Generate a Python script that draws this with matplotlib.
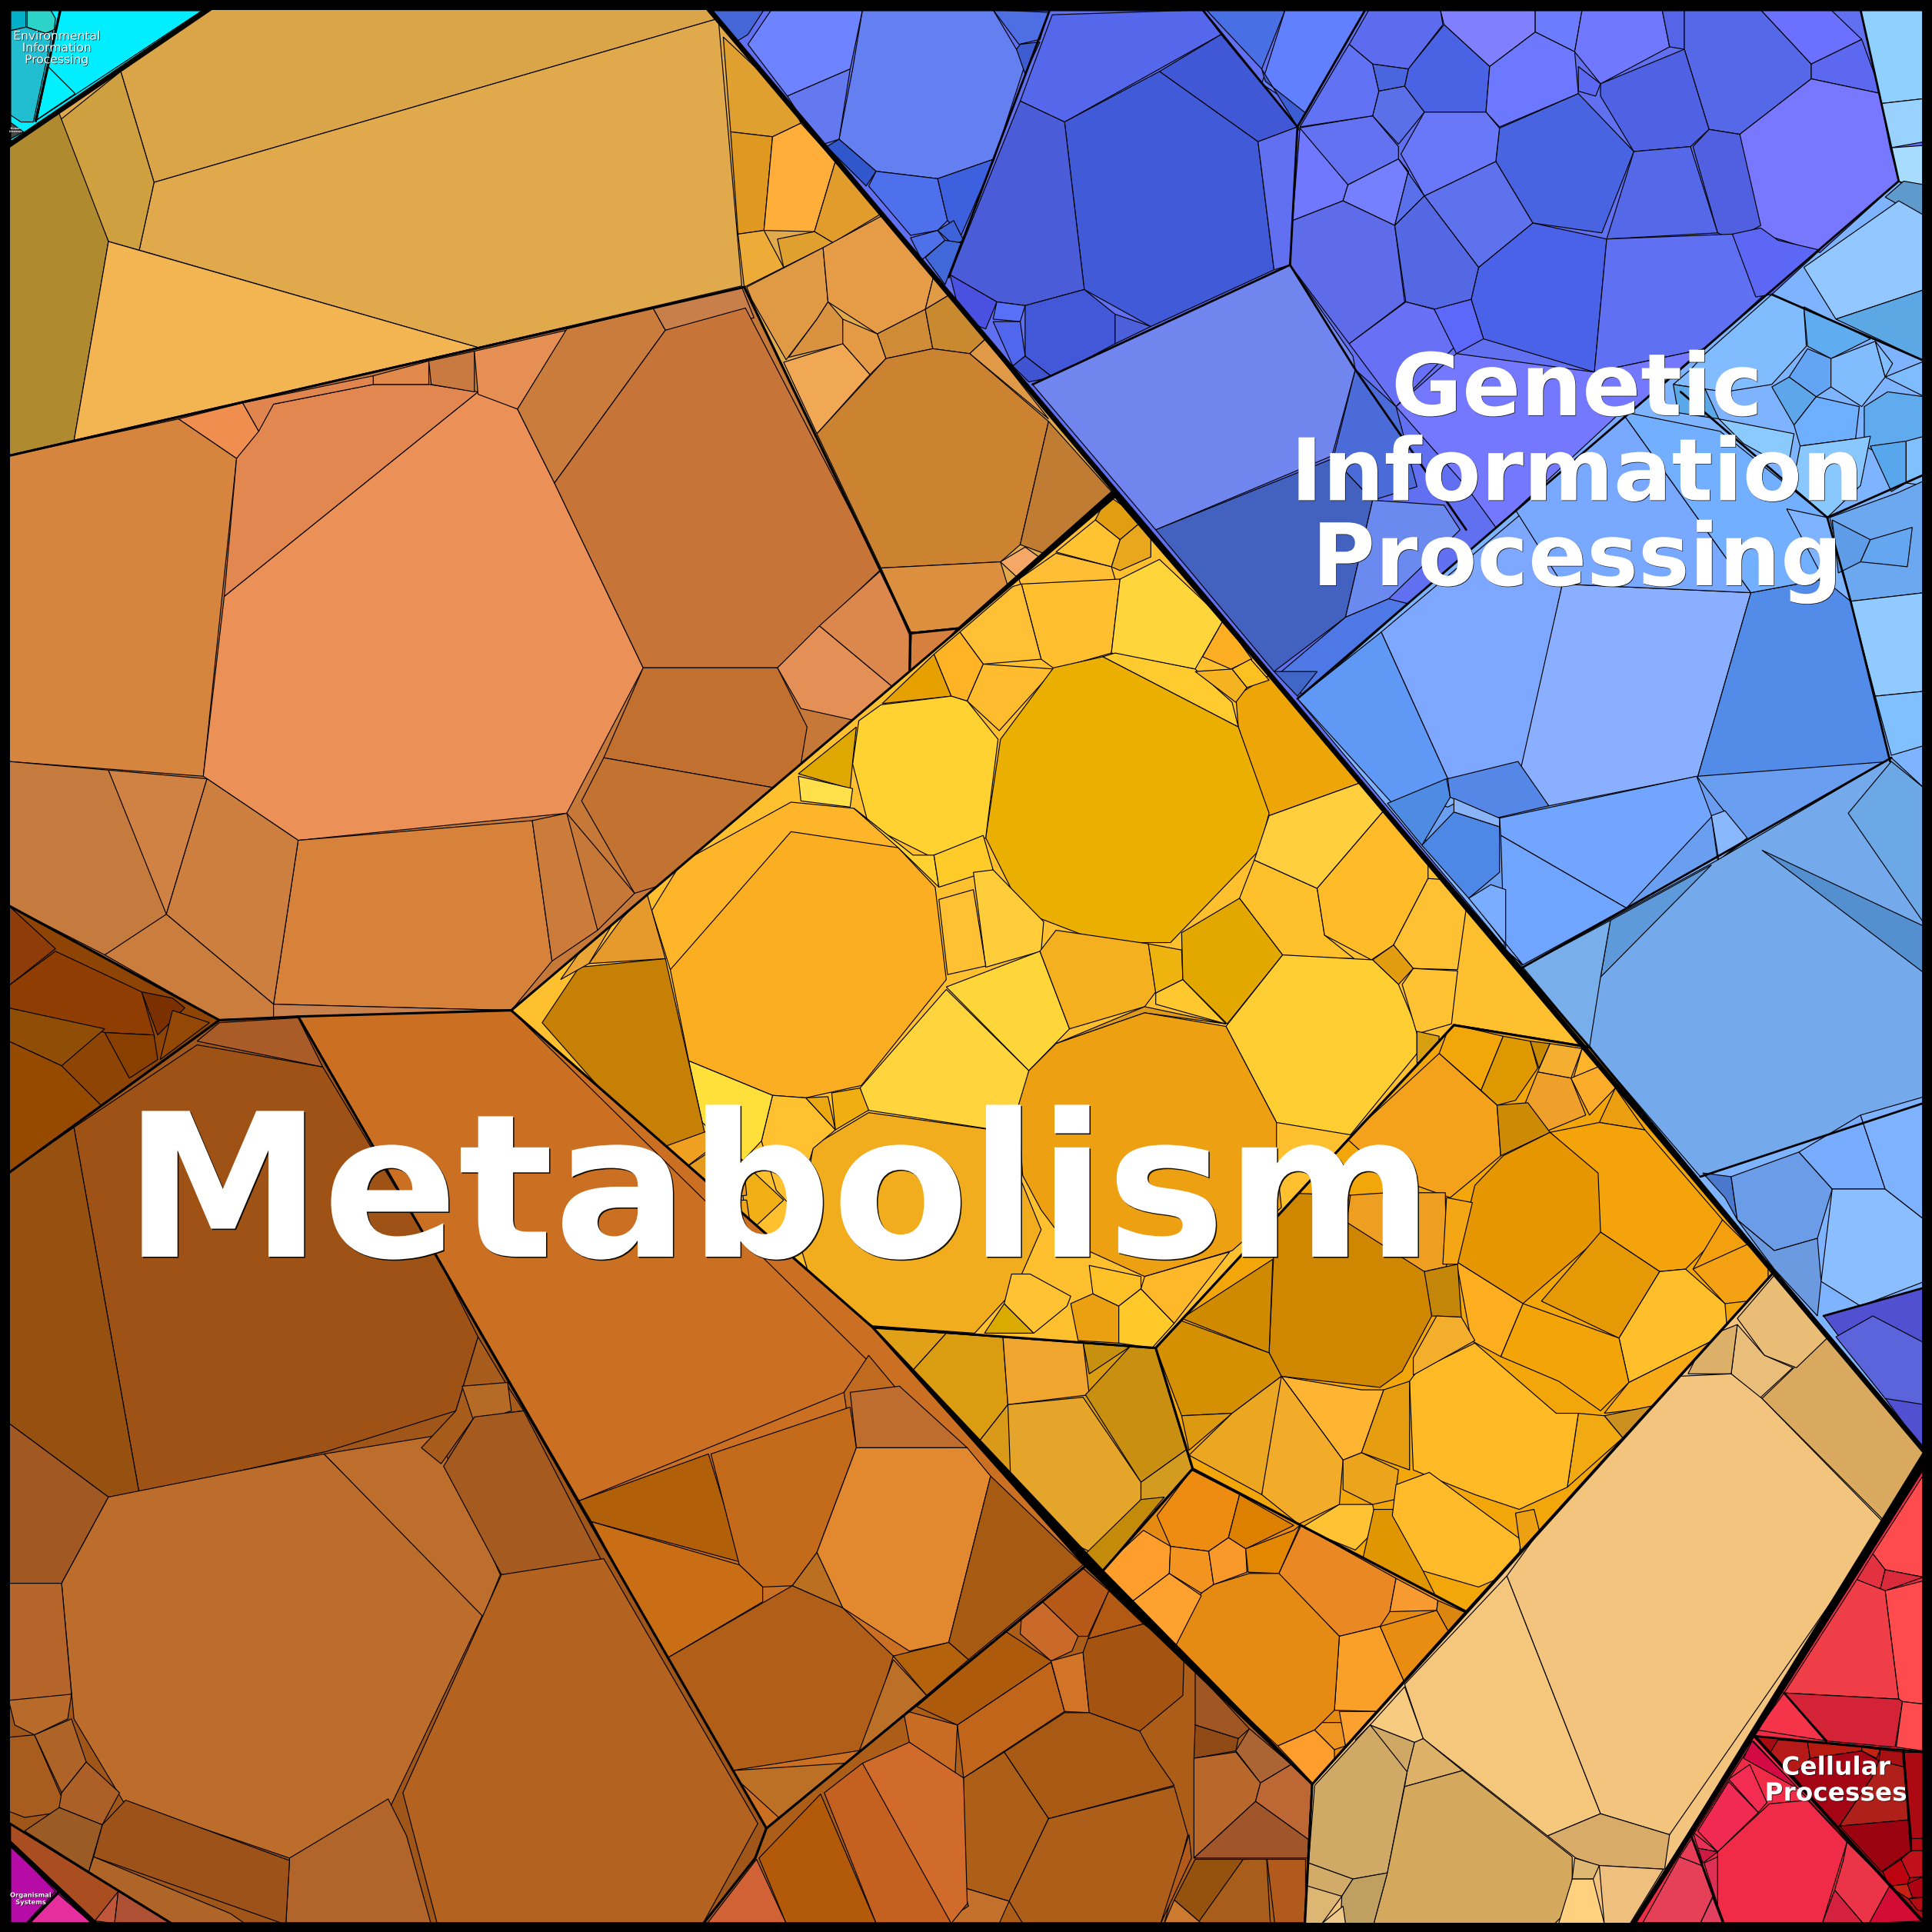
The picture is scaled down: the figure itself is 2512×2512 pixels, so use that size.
#!/usr/bin/env python3
"""Voronoi treemap of functional categories, cells read off the reference picture."""

import matplotlib

matplotlib.use("Agg")

import matplotlib.patheffects as pe
import matplotlib.pyplot as plt
from matplotlib.patches import Polygon

# Category outlines, in picture units (1568 across)
ENV_OUTLINE = [(7, 7), (170, 7), (7, 118)]
DISEASE_OUTLINE = [(8, 99), (19, 107), (8, 113)]
GENETIC_OUTLINE = [(575, 7), (1562, 7), (1562, 1178)]
CELLULAR_OUTLINE = [(1562, 1188), (1562, 1562), (1325, 1562)]
ORGANISMAL_OUTLINE = [(7, 1495), (78, 1562), (7, 1562)]

# Sub-category outlines inside Metabolism: (base colour, outline)
TOP_TAN = ("#DFA94C", [(170, 7), (575, 7), (904, 398), (778, 510), (739, 514), (604, 233), (7, 370), (7, 118)])
WEDGE = ("#D6803F", [(739, 514), (778, 510), (738, 552)])
ORANGE_UP = ("#C57838", [(7, 370), (604, 233), (739, 514), (738, 552), (415, 820), (178, 828), (7, 735)])
BROWN_DARK = ("#8E4405", [(7, 735), (178, 828), (7, 952)])
YELLOW_MID = ("#FFC030", [(415, 820), (905, 403), (1290, 850), (1180, 832), (938, 1094), (708, 1077)])
YELLOW_LOW = ("#F2A60A", [(938, 1094), (1180, 832), (1290, 850), (1440, 1032), (1190, 1308), (968, 1192)])
GOLD_LOW = ("#DA9C10", [(708, 1077), (938, 1094), (968, 1192), (895, 1275)])
ORANGE_BRIGHT = ("#E58B14", [(968, 1192), (1190, 1308), (1065, 1448), (895, 1275)])
CREAM = ("#F3C47D", [(1440, 1032), (1562, 1178), (1325, 1562), (1059, 1562), (1065, 1448)])
BROWN_MID = ("#CB7022", [(242, 825), (415, 820), (708, 1077), (881, 1271), (622, 1484)])
BROWN_LEFT = ("#A05618", [(7, 952), (178, 828), (242, 825), (622, 1484), (613, 1508), (571, 1561), (139, 1561), (7, 1480)])
RED_CORNER = ("#AA4E22", [(8, 1480), (139, 1561), (78, 1561), (8, 1495)])
BROWN_LOW = ("#AC5E18", [(881, 1271), (1065, 1448), (1059, 1561), (571, 1561), (613, 1508), (622, 1484)])

ENV_CELLS = [
    ("#00EEFF", [(49, 8), (165, 8), (29, 98)]),
    ("#00AFC8", [(8, 8), (21, 8), (21, 22), (8, 25)]),
    ("#2CD3C8", [(22, 8), (41, 8), (45, 15), (44, 24), (37, 27), (22, 22)]),
    ("#20BED0", [(8, 25), (21, 22), (37, 27), (43, 25), (27, 99), (17, 99), (8, 93)]),
    ("#3FF7FF", [(31, 88), (37, 92), (30, 97)]),
    ("#00F0FF", [(39, 54), (61, 76), (30, 97)]),
    ("#484848", DISEASE_OUTLINE),
]
ORGANISMAL_CELLS = [
    ("#B60BA6", [(7, 1495), (45, 1535), (20, 1562), (7, 1562)]),
    ("#E72E9F", [(47, 1537), (76, 1562), (23, 1562)]),
]
RED_CORNER_CELLS = [
    ("#C0563A", [(96, 1535), (77, 1559), (93, 1561)]),
    ("#AE5034", [(96, 1535), (139, 1561), (93, 1561)]),
]
TOP_TAN_CELLS = [
    ("#D9A548", [(170, 7), (575, 7), (583, 15), (125, 148), (98, 58)]),
    ("#DFA94C", [(125, 148), (583, 15), (602, 232), (388, 282), (113, 203)]),
    ("#CFA040", [(98, 58), (125, 148), (113, 203), (88, 196), (48, 98)]),
    ("#B08A2E", [(7, 118), (48, 92), (88, 196), (60, 358), (7, 370)]),
    ("#F2B552", [(88, 196), (388, 282), (60, 358)]),
    ("#E0A030", [(587, 30), (593, 107), (627, 111), (650, 100), (640, 80)]),
    ("#DF9820", [(593, 107), (627, 111), (620, 187), (599, 190)]),
    ("#FFAE3A", [(627, 111), (650, 100), (678, 131), (661, 188), (620, 187)]),
    ("#E29C2C", [(678, 131), (716, 173), (676, 197), (661, 188)]),
    ("#EDAB38", [(599, 190), (620, 187), (636, 217), (604, 233)]),
    ("#DFA030", [(631, 194), (661, 188), (676, 197), (636, 217)]),
    ("#E09A45", [(606, 233), (668, 201), (672, 245), (663, 259), (638, 292), (610, 243)]),
    ("#E69B47", [(668, 201), (716, 175), (758, 223), (751, 251), (712, 271), (672, 245)]),
    ("#E29B45", [(758, 223), (771, 239), (751, 251)]),
    ("#CF8B35", [(751, 251), (757, 283), (719, 291), (712, 271)]),
    ("#C8892F", [(751, 251), (771, 239), (800, 275), (787, 287), (757, 283)]),
    ("#E09A47", [(800, 275), (851, 340), (787, 287)]),
    ("#D9923F", [(672, 245), (684, 259), (685, 279), (640, 290), (663, 259)]),
    ("#E59A45", [(684, 259), (712, 271), (719, 291), (706, 304), (684, 279)]),
    ("#F0A855", [(636, 294), (684, 279), (706, 304), (663, 352)]),
    ("#CC8331", [(663, 352), (719, 291), (757, 283), (787, 287), (851, 342), (828, 442), (812, 456), (715, 461)]),
    ("#BF7C32", [(851, 342), (903, 400), (855, 452), (828, 442)]),
    ("#DC8F3F", [(715, 461), (812, 456), (818, 476), (777, 512), (739, 513)]),
    ("#F5A866", [(812, 456), (832, 444), (846, 454), (826, 469)]),
]
ORANGE_UP_CELLS = [
    ("#D6853E", [(7, 370), (145, 340), (192, 372), (165, 630), (7, 618)]),
    ("#EB9158", [(388, 318), (420, 332), (450, 392), (522, 542), (460, 660), (242, 682), (165, 630), (182, 484)]),
    ("#E2874F", [(182, 484), (192, 372), (210, 345), (222, 328), (303, 312), (348, 312), (388, 318)]),
    ("#EF8E4E", [(145, 340), (197, 327), (210, 350), (192, 372)]),
    ("#E0854E", [(197, 327), (303, 305), (303, 312), (222, 328), (210, 350)]),
    ("#E28A4C", [(303, 312), (348, 312), (348, 293), (303, 305)]),
    ("#C97A40", [(348, 293), (385, 285), (385, 318), (350, 312)]),
    ("#E58F55", [(385, 285), (460, 268), (420, 332), (388, 320)]),
    ("#C97C3B", [(460, 267), (530, 250), (540, 268), (450, 392), (420, 332)]),
    ("#C97F49", [(530, 250), (602, 233), (612, 258), (540, 268)]),
    ("#C77439", [(540, 268), (605, 250), (715, 462), (631, 542), (522, 542), (450, 392)]),
    ("#DC884C", [(665, 508), (715, 463), (738, 515), (738, 550), (725, 558)]),
    ("#E38F55", [(631, 542), (665, 508), (725, 558), (695, 585), (650, 575)]),
    ("#C17030", [(522, 542), (631, 542), (655, 590), (650, 620), (632, 640), (490, 615)]),
    ("#C37331", [(472, 650), (490, 615), (632, 640), (570, 708), (515, 725)]),
    ("#C57838", [(432, 668), (460, 660), (515, 725), (485, 755)]),
    ("#D7823A", [(242, 682), (432, 666), (448, 780), (415, 820), (222, 815)]),
    ("#CC7C3A", [(432, 666), (460, 660), (485, 755), (448, 780)]),
    ("#C67B3E", [(7, 618), (88, 625), (140, 742), (85, 775), (7, 735)]),
    ("#CF8244", [(88, 625), (168, 632), (135, 742)]),
    ("#CD7F3F", [(168, 632), (242, 682), (222, 815), (135, 742)]),
    ("#CB7D3D", [(135, 742), (222, 815), (222, 828), (178, 828), (85, 775)]),
    ("#C8804D", [(222, 815), (415, 820), (222, 828)]),
]
BROWN_DARK_CELLS = [
    ("#8E3C0A", [(7, 735), (45, 770), (7, 800)]),
    ("#8F3D02", [(7, 800), (45, 772), (115, 805), (125, 840), (85, 838), (7, 818)]),
    ("#8F4D05", [(7, 818), (85, 835), (50, 865), (7, 845)]),
    ("#964A00", [(7, 845), (50, 865), (85, 900), (7, 952)]),
    ("#883F00", [(85, 838), (125, 840), (128, 860), (105, 875)]),
    ("#7A3000", [(115, 805), (140, 810), (150, 818), (128, 840)]),
    ("#944805", [(140, 820), (170, 830), (130, 860)]),
]
BROWN_MID_CELLS = [
    ("#CB7022", [(242, 825), (415, 820), (705, 1105), (685, 1130), (470, 1218)]),
    ("#C06A20", [(705, 1100), (730, 1130), (690, 1165), (685, 1130)]),
    ("#BF6D2F", [(690, 1130), (730, 1125), (785, 1175), (695, 1175)]),
    ("#B25F0A", [(470, 1218), (575, 1180), (602, 1268), (480, 1235)]),
    ("#C46A1B", [(577, 1180), (690, 1142), (695, 1175), (663, 1260), (643, 1287), (619, 1288), (600, 1270)]),
    ("#C96E14", [(480, 1235), (600, 1270), (619, 1288), (619, 1300), (541, 1346)]),
    ("#E2882F", [(695, 1175), (785, 1175), (804, 1198), (770, 1333), (738, 1340), (684, 1305), (663, 1260)]),
    ("#A65A12", [(804, 1198), (879, 1270), (786, 1347), (770, 1333)]),
    ("#BA7020", [(643, 1287), (684, 1305), (663, 1260)]),
    ("#B05E18", [(541, 1346), (643, 1287), (684, 1305), (725, 1344), (702, 1420), (594, 1437)]),
    ("#B5620C", [(725, 1344), (770, 1333), (786, 1347), (752, 1376)]),
    ("#BC6F27", [(725, 1347), (752, 1376), (697, 1422)]),
    ("#BC7026", [(594, 1437), (686, 1431), (633, 1476), (599, 1445)]),
]
BROWN_LEFT_CELLS = [
    ("#A95B28", [(160, 845), (178, 830), (242, 826), (262, 866)]),
    ("#9E5216", [(60, 915), (160, 848), (262, 866), (355, 1020), (388, 1085), (370, 1145), (265, 1178), (113, 1212)]),
    ("#96500F", [(7, 952), (60, 915), (113, 1212), (88, 1215), (7, 1155)]),
    ("#A25823", [(7, 1155), (88, 1215), (50, 1285), (7, 1285)]),
    ("#BC6C2B", [(50, 1285), (88, 1215), (263, 1180), (392, 1310), (315, 1470), (235, 1508), (100, 1462), (60, 1395)]),
    ("#BD6E2D", [(263, 1180), (355, 1165), (406, 1278), (392, 1312)]),
    ("#A85C1C", [(370, 1145), (388, 1085), (412, 1125), (425, 1145), (385, 1150), (358, 1188), (342, 1175)]),
    ("#B56B25", [(375, 1125), (412, 1122), (415, 1145), (385, 1155)]),
    ("#A55B20", [(385, 1150), (425, 1145), (490, 1270), (407, 1278), (360, 1190)]),
    ("#B46220", [(407, 1278), (490, 1265), (615, 1480), (570, 1562), (355, 1562), (327, 1455)]),
    ("#B2652A", [(315, 1460), (330, 1490), (350, 1562), (232, 1562), (235, 1508)]),
    ("#9C5218", [(76, 1507), (83, 1481), (102, 1461), (235, 1510), (232, 1562)]),
    ("#AF6428", [(72, 1519), (76, 1507), (187, 1553), (200, 1562), (139, 1562)]),
    ("#B5652A", [(7, 1285), (50, 1285), (58, 1375), (15, 1390), (7, 1385)]),
    ("#B86A2A", [(7, 1380), (58, 1375), (55, 1395), (28, 1408), (12, 1400)]),
    ("#A85C1E", [(7, 1410), (28, 1408), (55, 1470), (20, 1475), (7, 1470)]),
    ("#AE6426", [(28, 1408), (58, 1395), (70, 1430), (50, 1455)]),
    ("#AC6027", [(50, 1455), (70, 1430), (97, 1455), (83, 1481), (48, 1467)]),
    ("#9A5B24", [(20, 1486), (48, 1467), (83, 1481), (72, 1519)]),
]
BROWN_LOW_CELLS = [
    ("#B55818", [(845, 1299), (878, 1272), (900, 1291), (883, 1328), (875, 1328)]),
    ("#B25A14", [(900, 1291), (928, 1318), (883, 1330)]),
    ("#C96A2A", [(845, 1299), (875, 1328), (870, 1340), (853, 1348), (828, 1326), (829, 1313)]),
    ("#AE5A0C", [(816, 1324), (853, 1348), (853, 1349), (777, 1400), (744, 1385)]),
    ("#C0651A", [(853, 1349), (864, 1389), (782, 1443), (777, 1400)]),
    ("#D17427", [(853, 1348), (879, 1341), (884, 1390), (864, 1389)]),
    ("#A45410", [(883, 1330), (928, 1318), (961, 1342), (960, 1376), (925, 1405), (884, 1390), (879, 1341)]),
    ("#C86C24", [(733, 1388), (777, 1400), (775, 1443), (738, 1414)]),
    ("#A85A15", [(864, 1390), (884, 1390), (925, 1405), (933, 1420), (953, 1449), (851, 1476), (815, 1422)]),
    ("#AD5F18", [(815, 1422), (851, 1476), (819, 1543), (782, 1532), (782, 1443)]),
    ("#AD5E18", [(851, 1476), (953, 1450), (964, 1489), (945, 1561), (830, 1561), (819, 1543)]),
    ("#C2702C", [(782, 1532), (819, 1543), (811, 1561), (764, 1561), (786, 1547)]),
    ("#D16B2B", [(700, 1431), (738, 1414), (782, 1443), (785, 1545), (772, 1561), (711, 1561)]),
    ("#C46020", [(669, 1455), (700, 1431), (772, 1561), (711, 1561)]),
    ("#B25A0A", [(616, 1508), (666, 1456), (711, 1561), (638, 1561)]),
    ("#D06235", [(574, 1561), (614, 1509), (638, 1561)]),
    ("#B25A1C", [(965, 1489), (967, 1508), (942, 1561)]),
    ("#A05622", [(970, 1356), (1014, 1403), (1005, 1411), (970, 1400)]),
    ("#8F4A16", [(970, 1400), (1005, 1411), (1003, 1421), (969, 1427)]),
    ("#B8682B", [(969, 1427), (1003, 1422), (1023, 1447), (1019, 1462), (969, 1508)]),
    ("#AB6535", [(1003, 1421), (1014, 1403), (1048, 1432), (1023, 1447)]),
    ("#BD6735", [(1048, 1432), (1066, 1448), (1062, 1493), (1019, 1462), (1023, 1447)]),
    ("#A0562A", [(1019, 1462), (1062, 1493), (1062, 1508), (969, 1508)]),
    ("#94520E", [(970, 1509), (1009, 1509), (975, 1561), (953, 1542)]),
    ("#A85E1A", [(1009, 1509), (1028, 1509), (1031, 1561), (972, 1561)]),
    ("#B25A1C", [(1028, 1509), (1059, 1509), (1059, 1561), (1034, 1561)]),
    ("#CC7A30", [(953, 1542), (975, 1561), (945, 1561)]),
]
ORANGE_BRIGHT_CELLS = [
    ("#EE8C12", [(967, 1193), (1006, 1213), (997, 1248), (981, 1259), (950, 1255), (939, 1230)]),
    ("#DD8000", [(1006, 1213), (1050, 1238), (1011, 1257), (997, 1248)]),
    ("#FF9E2C", [(928, 1242), (950, 1255), (949, 1277), (916, 1302), (893, 1274)]),
    ("#F39420", [(950, 1255), (981, 1259), (985, 1286), (975, 1293), (949, 1277)]),
    ("#F8992A", [(981, 1259), (997, 1248), (1011, 1257), (1012, 1276), (985, 1286)]),
    ("#E38600", [(1011, 1257), (1050, 1242), (1055, 1238), (1038, 1277), (1013, 1276)]),
    ("#EA8923", [(1056, 1238), (1133, 1281), (1128, 1308), (1120, 1320), (1087, 1328), (1042, 1282), (1038, 1277)]),
    ("#F79A30", [(1133, 1281), (1167, 1299), (1166, 1307), (1128, 1308)]),
    ("#DC8612", [(1167, 1299), (1190, 1309), (1176, 1325), (1166, 1307)]),
    ("#E88C12", [(1120, 1320), (1166, 1307), (1176, 1325), (1140, 1366)]),
    ("#FAA028", [(1087, 1328), (1120, 1320), (1140, 1366), (1117, 1389), (1083, 1388)]),
    ("#E58B14", [(1014, 1277), (1038, 1277), (1087, 1328), (1083, 1388), (1067, 1404), (1037, 1417), (953, 1338), (975, 1293), (985, 1286)]),
    ("#FFA12F", [(916, 1302), (949, 1277), (975, 1295), (953, 1338)]),
    ("#FF9E2C", [(1037, 1417), (1067, 1404), (1083, 1420), (1083, 1430), (1066, 1448)]),
    ("#EE9420", [(1067, 1404), (1073, 1398), (1090, 1398), (1092, 1417), (1083, 1420)]),
    ("#FCA030", [(1087, 1389), (1117, 1389), (1092, 1417)]),
]
CREAM_CELLS = [
    ("#D8A95F", [(1430, 1135), (1482, 1085), (1562, 1160), (1562, 1185), (1530, 1235)]),
    ("#EABD77", [(1410, 1070), (1440, 1035), (1484, 1085), (1458, 1110), (1432, 1100)]),
    ("#E9BE7A", [(1405, 1115), (1410, 1075), (1432, 1100), (1455, 1110), (1428, 1135)]),
    ("#DDB06A", [(1370, 1115), (1385, 1085), (1410, 1075), (1405, 1115)]),
    ("#F5C77D", [(1223, 1279), (1299, 1472), (1256, 1490), (1155, 1411), (1140, 1367)]),
    ("#F2C47E", [(1223, 1279), (1340, 1118), (1405, 1115), (1430, 1135), (1530, 1237), (1355, 1489), (1299, 1472)]),
    ("#D8AB68", [(1299, 1472), (1355, 1489), (1351, 1517), (1297, 1514), (1279, 1508), (1256, 1490)]),
    ("#DDB268", [(1155, 1411), (1187, 1437), (1140, 1450), (1142, 1438), (1148, 1414)]),
    ("#CFA866", [(1112, 1400), (1148, 1414), (1142, 1438), (1100, 1412)]),
    ("#F8CC80", [(1112, 1400), (1140, 1369), (1155, 1411), (1148, 1414)]),
    ("#D1A966", [(1067, 1449), (1112, 1400), (1142, 1438), (1126, 1520), (1098, 1525), (1062, 1512)]),
    ("#D4A95E", [(1140, 1450), (1187, 1437), (1276, 1507), (1276, 1547), (1262, 1561), (1115, 1561), (1126, 1520)]),
    ("#D2AB69", [(1062, 1512), (1098, 1525), (1089, 1539), (1070, 1537), (1059, 1530)]),
    ("#BFA060", [(1098, 1525), (1126, 1520), (1115, 1561), (1088, 1561), (1089, 1539)]),
    ("#DEB674", [(1059, 1530), (1089, 1539), (1073, 1561), (1059, 1561)]),
    ("#EFC98A", [(1090, 1547), (1092, 1561), (1073, 1561)]),
    ("#DEB772", [(1278, 1508), (1298, 1514), (1293, 1525), (1276, 1525)]),
    ("#FFD07D", [(1276, 1525), (1293, 1525), (1302, 1561), (1265, 1561)]),
    ("#EFBF7E", [(1298, 1514), (1350, 1517), (1323, 1561), (1302, 1561)]),
]
CELLULAR_CELLS = [
    ("#FF4A4E", [(1561, 1197), (1561, 1280), (1530, 1274), (1520, 1261)]),
    ("#E3313F", [(1520, 1261), (1530, 1274), (1526, 1290), (1507, 1282)]),
    ("#D82A3A", [(1530, 1274), (1561, 1280), (1530, 1291), (1526, 1290)]),
    ("#FF4A4E", [(1530, 1291), (1561, 1283), (1561, 1383), (1544, 1381), (1541, 1379)]),
    ("#EF3E47", [(1507, 1282), (1530, 1291), (1541, 1379), (1448, 1374)]),
    ("#D42336", [(1448, 1374), (1541, 1379), (1544, 1381), (1538, 1418), (1483, 1413)]),
    ("#FF4A4E", [(1544, 1381), (1561, 1383), (1561, 1421), (1539, 1418)]),
    ("#F5344A", [(1448, 1374), (1483, 1413), (1426, 1404)]),
    ("#A60C12", [(1424, 1409), (1561, 1422), (1561, 1559)]),
    ("#B51A18", [(1437, 1422), (1443, 1412), (1467, 1414), (1469, 1427), (1455, 1441)]),
    ("#B71A0E", [(1467, 1414), (1511, 1418), (1511, 1421), (1469, 1427)]),
    ("#C42310", [(1511, 1418), (1526, 1420), (1523, 1427), (1511, 1421)]),
    ("#A30514", [(1469, 1427), (1511, 1421), (1525, 1429), (1519, 1443), (1492, 1483), (1455, 1441)]),
    ("#A81014", [(1526, 1420), (1544, 1422), (1545, 1434), (1525, 1429)]),
    ("#B0201A", [(1525, 1429), (1545, 1434), (1549, 1477), (1493, 1482), (1519, 1443)]),
    ("#9C0310", [(1493, 1482), (1549, 1477), (1551, 1502), (1527, 1519)]),
    ("#AC0A12", [(1545, 1422), (1561, 1422), (1561, 1492), (1551, 1492)]),
    ("#B00A12", [(1551, 1492), (1561, 1492), (1561, 1502), (1551, 1502)]),
    ("#BC0410", [(1528, 1519), (1543, 1509), (1550, 1524), (1548, 1529), (1533, 1531)]),
    ("#C0101A", [(1543, 1509), (1551, 1502), (1561, 1502), (1561, 1523), (1550, 1524)]),
    ("#AE0212", [(1548, 1529), (1561, 1523), (1561, 1540), (1552, 1540)]),
    ("#C82014", [(1533, 1531), (1548, 1529), (1552, 1540), (1549, 1541)]),
    ("#B40A12", [(1549, 1541), (1561, 1540), (1560, 1551), (1556, 1550)]),
    ("#EF2B47", [(1423, 1413), (1561, 1560), (1399, 1561), (1373, 1491)]),
    ("#D40A45", [(1422, 1413), (1457, 1449), (1456, 1450), (1415, 1427)]),
    ("#F22C52", [(1403, 1444), (1420, 1432), (1434, 1463), (1427, 1471)]),
    ("#F02A52", [(1403, 1446), (1427, 1471), (1394, 1503), (1378, 1486)]),
    ("#EF2B47", [(1436, 1464), (1467, 1461), (1499, 1495), (1479, 1561), (1394, 1561), (1394, 1503)]),
    ("#E83058", [(1374, 1487), (1394, 1503), (1378, 1500)]),
    ("#CC1A44", [(1378, 1500), (1394, 1503), (1382, 1512)]),
    ("#E02F55", [(1383, 1512), (1394, 1507), (1394, 1546)]),
    ("#EC3448", [(1499, 1495), (1534, 1530), (1517, 1561), (1512, 1561), (1489, 1534), (1496, 1510)]),
    ("#D4213F", [(1489, 1534), (1512, 1561), (1479, 1561)]),
    ("#D20C34", [(1534, 1530), (1561, 1559), (1517, 1561)]),
    ("#E63F58", [(1363, 1507), (1381, 1514), (1390, 1539), (1380, 1561), (1333, 1561)]),
    ("#E83C56", [(1373, 1492), (1381, 1514), (1363, 1507)]),
    ("#E24060", [(1390, 1540), (1398, 1561), (1380, 1561)]),
]
YELLOW_MID_CELLS = [
    ("#E09E10", [(899, 402), (928, 422), (909, 438), (889, 422)]),
    ("#E8A71C", [(928, 422), (934, 434), (934, 452), (909, 463), (902, 460), (909, 438)]),
    ("#FFC230", [(889, 422), (909, 438), (902, 460), (857, 448)]),
    ("#FFBE35", [(857, 449), (902, 460), (905, 470), (835, 495), (827, 470)]),
    ("#FFBF2E", [(829, 474), (909, 470), (902, 530), (856, 543), (845, 535)]),
    ("#FFD53C", [(909, 470), (941, 454), (993, 503), (970, 543), (902, 530)]),
    ("#FEAE22", [(993, 503), (1016, 535), (999, 543), (976, 533)]),
    ("#FFC036", [(822, 476), (829, 474), (845, 535), (798, 539), (779, 513)]),
    ("#FFB325", [(758, 531), (779, 513), (798, 539), (785, 569), (772, 565)]),
    ("#E6A000", [(716, 571), (758, 531), (772, 565)]),
    ("#FFBC2F", [(798, 539), (856, 543), (811, 593), (785, 569)]),
    ("#EEA508", [(1005, 590), (1003, 565), (1030, 548), (1105, 635), (1030, 662), (1025, 650)]),
    ("#FFCB2E", [(895, 533), (905, 530), (970, 543), (1000, 570), (1005, 590)]),
    ("#F5B322", [(970, 545), (1000, 543), (1012, 558), (1003, 570)]),
    ("#FCC020", [(1000, 543), (1015, 535), (1030, 552), (1012, 558)]),
    ("#EAAF00", [(895, 533), (1005, 590), (1030, 660), (1022, 690), (950, 765), (895, 765), (830, 740), (800, 680), (812, 600), (855, 542)]),
    ("#FFD232", [(697, 585), (715, 572), (772, 565), (785, 569), (810, 600), (800, 680), (755, 695), (705, 670), (692, 620)]),
    ("#DFA800", [(648, 628), (695, 590), (692, 618), (690, 640)]),
    ("#FFE04A", [(648, 630), (692, 640), (690, 655), (650, 650)]),
    ("#FFB52A", [(529, 739), (553, 700), (642, 651), (693, 656), (733, 688), (544, 787)]),
    ("#FCAE22", [(544, 787), (642, 675), (729, 688), (759, 720), (768, 795), (699, 881), (654, 891), (627, 889), (559, 861)]),
    ("#FFD232", [(693, 656), (741, 694), (758, 694), (762, 720), (729, 688)]),
    ("#FFCB28", [(758, 694), (798, 678), (806, 706), (762, 720)]),
    ("#FFCC3A", [(790, 708), (806, 706), (847, 748), (845, 772), (800, 785)]),
    ("#FFC133", [(762, 730), (790, 722), (800, 784), (769, 791)]),
    ("#FFD63A", [(768, 801), (844, 772), (868, 835), (835, 869)]),
    ("#FFD43C", [(768, 803), (835, 869), (827, 920), (704, 901), (698, 883)]),
    ("#F5B020", [(844, 772), (857, 755), (932, 766), (938, 805), (929, 817), (868, 835)]),
    ("#EFB310", [(932, 766), (959, 771), (960, 795), (938, 806)]),
    ("#FFC82F", [(960, 795), (995, 831), (938, 815), (938, 806)]),
    ("#E2A800", [(1006, 729), (1041, 775), (996, 831), (960, 795), (959, 757)]),
    ("#FFC12B", [(1018, 698), (1069, 721), (1075, 759), (1099, 778), (1063, 777), (1041, 775), (1006, 729)]),
    ("#FFCF3E", [(1030, 662), (1105, 635), (1123, 658), (1069, 721), (1018, 698)]),
    ("#FFBC28", [(1069, 721), (1123, 658), (1159, 700), (1159, 713), (1131, 767), (1113, 779), (1075, 759)]),
    ("#FFC134", [(1159, 713), (1174, 714), (1190, 737), (1183, 787), (1147, 786), (1131, 767)]),
    ("#E29C10", [(1114, 779), (1131, 767), (1147, 786), (1135, 799)]),
    ("#FFCE33", [(1041, 775), (1114, 779), (1135, 799), (1150, 835), (1150, 855), (1096, 921), (1036, 911), (995, 833)]),
    ("#FFC233", [(1138, 799), (1147, 786), (1183, 788), (1178, 831), (1150, 839)]),
    ("#D8A010", [(1150, 837), (1168, 841), (1167, 855), (1150, 863)]),
    ("#DE9A1A", [(857, 847), (929, 817), (995, 831), (929, 822)]),
    ("#EDA012", [(929, 822), (995, 833), (1036, 911), (1036, 942), (1040, 980), (1000, 1015), (929, 1036), (863, 1006), (845, 982), (830, 954), (826, 899), (835, 869), (857, 847)]),
    ("#F2AD1E", [(705, 903), (827, 920), (827, 954), (845, 998), (824, 1046), (791, 1082), (708, 1076), (660, 1046), (648, 1006), (660, 930)]),
    ("#FFC12F", [(627, 889), (654, 891), (678, 917), (660, 932), (645, 982), (630, 966), (618, 926)]),
    ("#FFE03A", [(559, 861), (627, 889), (618, 926), (603, 942), (570, 911)]),
    ("#EBA810", [(654, 891), (672, 890), (678, 917)]),
    ("#F0AE10", [(675, 887), (698, 883), (705, 901), (678, 917)]),
    ("#EFAF15", [(606, 946), (636, 974), (606, 1002), (603, 970)]),
    ("#C78006", [(440, 830), (470, 785), (540, 778), (572, 920), (535, 938)]),
    ("#E69A2C", [(478, 782), (505, 745), (525, 725), (540, 778)]),
    ("#EAA535", [(455, 795), (478, 762), (500, 745), (478, 782)]),
    ("#F0A020", [(541, 930), (574, 918), (577, 932), (553, 950)]),
    ("#E59A20", [(553, 950), (577, 934), (603, 942), (606, 970), (577, 974)]),
    ("#F2A71A", [(571, 974), (606, 974), (610, 1002), (642, 1022), (648, 1026), (642, 1038), (618, 1022)]),
    ("#CE7C02", [(642, 1022), (660, 1046), (708, 1076), (648, 1034)]),
    ("#DAAA00", [(799, 1082), (815, 1058), (839, 1082)]),
    ("#FFC232", [(821, 1034), (836, 1034), (869, 1052), (866, 1060), (839, 1082), (815, 1058)]),
    ("#EAA010", [(869, 1058), (887, 1050), (908, 1060), (908, 1090), (875, 1088)]),
    ("#FFC128", [(884, 1027), (926, 1036), (926, 1046), (908, 1060), (887, 1050)]),
    ("#FFC92A", [(926, 1046), (953, 1074), (935, 1094), (908, 1090), (908, 1060)]),
    ("#FFB82A", [(929, 1036), (998, 1016), (953, 1074), (926, 1046)]),
]
YELLOW_LOW_CELLS = [
    ("#F2A60A", [(1177, 831), (1220, 841), (1202, 885), (1168, 855)]),
    ("#DE9800", [(1220, 841), (1242, 845), (1248, 867), (1230, 893), (1215, 897), (1202, 885)]),
    ("#C88800", [(1242, 845), (1258, 847), (1249, 867)]),
    ("#F4AF30", [(1258, 847), (1284, 851), (1275, 875), (1248, 870)]),
    ("#FFB42A", [(1284, 851), (1299, 867), (1277, 875)]),
    ("#EFA02A", [(1248, 870), (1275, 875), (1287, 905), (1253, 919), (1238, 895)]),
    ("#FBAC2A", [(1275, 875), (1299, 865), (1311, 883), (1290, 905)]),
    ("#EA9E10", [(1311, 883), (1335, 917), (1298, 911)]),
    ("#F4A11C", [(1168, 855), (1215, 897), (1218, 938), (1177, 972), (1126, 954), (1093, 924)]),
    ("#CC8A05", [(1215, 897), (1240, 895), (1258, 919), (1218, 938)]),
    ("#E59600", [(1258, 919), (1300, 952), (1303, 1000), (1236, 1058), (1182, 1024), (1197, 962), (1220, 938)]),
    ("#F4A40A", [(1298, 911), (1335, 917), (1398, 990), (1392, 1006), (1368, 1030), (1347, 1032), (1299, 1000), (1297, 952), (1258, 919)]),
    ("#E59A05", [(1299, 1000), (1347, 1032), (1314, 1086), (1251, 1056)]),
    ("#FFBF2B", [(1347, 1032), (1368, 1030), (1400, 1058), (1402, 1082), (1322, 1122), (1314, 1086)]),
    ("#F2A408", [(1218, 1101), (1236, 1058), (1314, 1086), (1322, 1122), (1299, 1145), (1265, 1121)]),
    ("#FFAE20", [(1182, 1024), (1236, 1058), (1218, 1101), (1194, 1088)]),
    ("#F39F0E", [(1398, 990), (1418, 1010), (1418, 1036), (1374, 1030)]),
    ("#F4A213", [(1418, 1010), (1435, 1026), (1435, 1042), (1418, 1056), (1400, 1058), (1374, 1030)]),
    ("#F7AA16", [(1322, 1122), (1402, 1082), (1360, 1122), (1345, 1142), (1302, 1147)]),
    ("#CC9020", [(1302, 1149), (1341, 1141), (1317, 1167)]),
    ("#F2AA12", [(1281, 1147), (1302, 1149), (1317, 1167), (1272, 1207)]),
    ("#FFBA26", [(1197, 1090), (1263, 1147), (1281, 1147), (1272, 1207), (1233, 1225), (1197, 1213), (1147, 1193), (1144, 1121), (1150, 1113)]),
    ("#CF8600", [(1036, 968), (1096, 970), (1156, 1026), (1162, 1068), (1138, 1113), (1120, 1126), (1040, 1117), (1030, 1098)]),
    ("#EE9F22", [(1096, 970), (1126, 968), (1173, 968), (1174, 1028), (1156, 1032), (1093, 992)]),
    ("#F5A615", [(1174, 972), (1195, 976), (1183, 1026), (1171, 1026)]),
    ("#C48608", [(1156, 1032), (1183, 1026), (1186, 1069), (1162, 1068)]),
    ("#F3AE2C", [(1166, 1068), (1186, 1069), (1197, 1088), (1147, 1116), (1147, 1102)]),
    ("#D08A00", [(959, 1070), (1033, 1022), (1030, 1098)]),
    ("#D49000", [(938, 1094), (959, 1072), (1030, 1098), (1040, 1117), (1000, 1147), (959, 1149)]),
    ("#DD9A10", [(959, 1149), (1000, 1147), (965, 1177)]),
    ("#FFB432", [(1040, 1117), (1105, 1128), (1123, 1128), (1105, 1179), (1090, 1185)]),
    ("#F2AC2A", [(1040, 1117), (1090, 1185), (1087, 1221), (1054, 1237), (1024, 1213), (1033, 1123)]),
    ("#EBA722", [(1040, 1117), (1024, 1213), (965, 1181), (1000, 1147)]),
    ("#E69E10", [(1123, 1128), (1144, 1121), (1144, 1193), (1105, 1179)]),
    ("#EBA41C", [(1090, 1185), (1105, 1179), (1135, 1193), (1132, 1217), (1114, 1221), (1090, 1209)]),
    ("#FFC233", [(1087, 1221), (1114, 1221), (1118, 1240), (1100, 1258), (1056, 1240)]),
    ("#E09600", [(1115, 1225), (1135, 1225), (1155, 1275), (1165, 1295), (1105, 1270)]),
    ("#FFBB2A", [(1133, 1205), (1160, 1195), (1235, 1250), (1230, 1275), (1200, 1288), (1155, 1275), (1130, 1230)]),
    ("#ECA012", [(1230, 1228), (1245, 1225), (1250, 1245), (1235, 1265)]),
]
GOLD_LOW_CELLS = [
    ("#E0A018", [(708, 1078), (768, 1082), (732, 1122), (702, 1098)]),
    ("#DA9C10", [(768, 1082), (814, 1085), (818, 1140), (789, 1177), (732, 1122)]),
    ("#EFA52E", [(814, 1085), (879, 1089), (884, 1132), (818, 1140)]),
    ("#C8900F", [(879, 1089), (917, 1093), (884, 1115)]),
    ("#C88F10", [(917, 1093), (938, 1094), (965, 1175), (926, 1203), (881, 1132)]),
    ("#E5A42A", [(818, 1140), (879, 1134), (926, 1203), (926, 1217), (890, 1262), (845, 1240), (800, 1190)]),
    ("#D89A18", [(789, 1177), (818, 1140), (820, 1195), (826, 1240)]),
    ("#D39C20", [(926, 1203), (965, 1175), (968, 1192), (938, 1225), (926, 1217)]),
    ("#C48A0A", [(926, 1217), (945, 1215), (895, 1275), (880, 1262)]),
]
GENETIC_CELLS = [
    ("#7EB4FF", [(1541, 147), (1562, 165), (1562, 1178), (1053, 567)]),
    ("#6A9EF0", [(1125, 640), (1175, 655), (1236, 624), (1378, 628), (1535, 615), (1236, 785)]),
    ("#6480F0", [(700, 8), (806, 8), (832, 52), (807, 129), (761, 145), (711, 139), (681, 113), (692, 56)]),
    ("#6E83FF", [(607, 36), (626, 8), (700, 8), (690, 56), (639, 78)]),
    ("#6478F0", [(639, 78), (690, 56), (681, 113), (665, 118)]),
    ("#4466D6", [(578, 8), (620, 8), (607, 28), (594, 36)]),
    ("#4E6FE4", [(806, 8), (851, 10), (844, 32), (827, 36)]),
    ("#3C5CD0", [(828, 36), (844, 34), (832, 60), (825, 40)]),
    ("#3058CC", [(681, 113), (711, 139), (703, 151), (671, 119)]),
    ("#4E70EC", [(711, 139), (761, 145), (769, 179), (761, 187), (739, 191), (705, 151)]),
    ("#3D60DE", [(761, 145), (807, 129), (780, 191), (769, 179)]),
    ("#4E70E8", [(739, 193), (761, 187), (767, 195), (748, 211)]),
    ("#3E62D8", [(761, 187), (774, 179), (782, 195), (774, 199)]),
    ("#4068D8", [(767, 195), (780, 197), (767, 231), (751, 209)]),
    ("#5567EA", [(854, 12), (976, 8), (991, 28), (864, 99), (828, 82)]),
    ("#4058D5", [(991, 28), (1053, 103), (1021, 115), (941, 58)]),
    ("#405AD8", [(941, 58), (1021, 115), (1034, 219), (934, 265), (880, 235), (864, 99)]),
    ("#6070F0", [(1021, 115), (1053, 103), (1047, 215), (1034, 219)]),
    ("#4A5CD8", [(828, 82), (864, 99), (880, 235), (832, 248), (809, 245), (771, 223)]),
    ("#4358D8", [(832, 248), (880, 235), (905, 255), (905, 279), (854, 306), (832, 289)]),
    ("#4C60DC", [(905, 255), (934, 265), (905, 279)]),
    ("#4A50E0", [(771, 223), (809, 245), (800, 267), (780, 259)]),
    ("#5870F8", [(809, 245), (832, 248), (828, 261), (806, 259)]),
    ("#5066EC", [(806, 261), (828, 261), (832, 289), (822, 297)]),
    ("#3E54D0", [(822, 297), (832, 289), (854, 306), (835, 310)]),
    ("#4870E4", [(979, 8), (1043, 8), (1024, 56)]),
    ("#6080FF", [(1043, 8), (1108, 8), (1060, 92), (1024, 68)]),
    ("#3C5ED4", [(1024, 56), (1027, 66), (1060, 92), (1053, 103)]),
    ("#5D6CEF", [(1095, 36), (1111, 8), (1169, 8), (1171, 20), (1143, 56), (1114, 52)]),
    ("#8080FF", [(1169, 8), (1246, 8), (1246, 26), (1209, 54), (1172, 20)]),
    ("#4A62E4", [(1172, 20), (1209, 54), (1206, 91), (1156, 91), (1140, 70), (1143, 56)]),
    ("#6C7CFF", [(1246, 8), (1284, 8), (1278, 42), (1246, 26)]),
    ("#6C78FF", [(1246, 26), (1278, 42), (1281, 76), (1217, 103), (1206, 91), (1209, 54)]),
    ("#7078FF", [(1284, 8), (1349, 8), (1355, 38), (1299, 68), (1278, 42)]),
    ("#5C68F0", [(1281, 54), (1299, 68), (1295, 78), (1281, 74)]),
    ("#5565E8", [(1349, 8), (1367, 8), (1367, 40), (1355, 38)]),
    ("#5568E8", [(1367, 8), (1429, 8), (1470, 52), (1470, 64), (1412, 109), (1387, 105), (1367, 40)]),
    ("#6C70FF", [(1429, 8), (1486, 8), (1511, 32), (1470, 52)]),
    ("#5C68F0", [(1470, 52), (1511, 32), (1527, 76), (1470, 64)]),
    ("#7878FF", [(1470, 64), (1527, 76), (1541, 147), (1477, 205), (1447, 195), (1412, 185), (1395, 170), (1412, 109)]),
    ("#5060E0", [(1387, 105), (1412, 109), (1429, 183), (1407, 195), (1394, 189), (1374, 119)]),
    ("#5062E4", [(1299, 68), (1367, 40), (1387, 105), (1372, 119), (1326, 123), (1299, 78)]),
    ("#4864E0", [(1217, 104), (1281, 76), (1326, 123), (1300, 189), (1244, 181), (1214, 131)]),
    ("#5568E8", [(1326, 123), (1372, 119), (1394, 189), (1304, 194)]),
    ("#4A62E8", [(1244, 181), (1304, 194), (1294, 302), (1204, 275), (1194, 243), (1200, 217)]),
    ("#6070F2", [(1304, 194), (1406, 190), (1432, 239), (1384, 283), (1294, 302)]),
    ("#5C68F5", [(1406, 190), (1429, 185), (1443, 195), (1477, 203), (1438, 239), (1425, 241)]),
    ("#5E72EE", [(1156, 159), (1214, 131), (1244, 181), (1200, 217)]),
    ("#6878F8", [(1156, 91), (1206, 91), (1217, 104), (1214, 131), (1156, 159), (1137, 125)]),
    ("#4A66DE", [(1114, 52), (1143, 56), (1140, 70), (1119, 74)]),
    ("#5A70E8", [(1119, 74), (1140, 70), (1156, 91), (1135, 117), (1114, 94)]),
    ("#6272F0", [(1053, 104), (1114, 94), (1135, 119), (1135, 129), (1094, 150)]),
    ("#6272F4", [(1095, 36), (1114, 52), (1119, 74), (1114, 94), (1055, 103), (1090, 44)]),
    ("#7078FF", [(1055, 104), (1094, 150), (1090, 163), (1049, 179)]),
    ("#7480FF", [(1094, 150), (1135, 129), (1143, 139), (1132, 183), (1090, 163)]),
    ("#5A70EA", [(1135, 129), (1156, 159), (1132, 183), (1143, 139)]),
    ("#5E6CEA", [(1049, 179), (1090, 163), (1132, 183), (1140, 245), (1095, 279), (1047, 215)]),
    ("#5468E4", [(1132, 183), (1156, 159), (1200, 217), (1194, 243), (1165, 251), (1141, 245)]),
    ("#6870F5", [(1095, 279), (1141, 245), (1164, 251), (1182, 280), (1133, 330)]),
    ("#5C68FA", [(1164, 251), (1194, 243), (1204, 275), (1182, 287)]),
    ("#7478FF", [(1133, 330), (1182, 287), (1294, 302), (1384, 283), (1214, 428), (1190, 395)]),
    ("#7086EE", [(838, 312), (1047, 215), (1098, 289), (1100, 300), (1081, 370), (938, 430)]),
    ("#4362C0", [(938, 430), (1082, 372), (1114, 406), (1092, 501), (1034, 545)]),
    ("#4B6BD8", [(1100, 300), (1133, 330), (1150, 395), (1114, 406), (1082, 372)]),
    ("#6A8AF0", [(1114, 406), (1172, 410), (1185, 430), (1127, 486), (1092, 501)]),
    ("#4E78E6", [(1040, 545), (1092, 501), (1127, 486), (1143, 490), (1058, 565)]),
    ("#4066C8", [(1034, 545), (1069, 545), (1053, 565)]),
    ("#90D0FF", [(1510, 8), (1562, 8), (1562, 80), (1527, 84)]),
    ("#9AD2FF", [(1527, 84), (1562, 80), (1562, 115), (1534, 120)]),
    ("#A8DCFF", [(1534, 120), (1562, 118), (1562, 155), (1541, 147)]),
    ("#5E9ACC", [(1545, 147), (1562, 150), (1562, 178), (1530, 160)]),
    ("#92C8FF", [(1464, 217), (1541, 163), (1562, 175), (1562, 235), (1490, 259)]),
    ("#5CA8E4", [(1490, 259), (1562, 235), (1562, 293)]),
    ("#80BCFF", [(1438, 239), (1464, 250), (1466, 281), (1438, 312), (1400, 318), (1358, 312), (1372, 300), (1384, 287)]),
    ("#60ACF0", [(1464, 249), (1518, 275), (1486, 291), (1467, 281)]),
    ("#64A4F4", [(1467, 283), (1486, 291), (1486, 314), (1474, 322), (1452, 306)]),
    ("#80BCFF", [(1486, 291), (1522, 277), (1530, 306), (1511, 330), (1486, 314)]),
    ("#80BEFF", [(1522, 277), (1536, 295), (1530, 306)]),
    ("#7EBCFF", [(1530, 306), (1562, 293), (1562, 322)]),
    ("#5EA6EA", [(1438, 314), (1452, 306), (1474, 322), (1456, 345)]),
    ("#6EB0FF", [(1474, 322), (1509, 330), (1506, 356), (1461, 362), (1456, 345)]),
    ("#60AAEE", [(1513, 330), (1532, 318), (1562, 322), (1562, 386), (1513, 362)]),
    ("#88C8FF", [(1461, 362), (1506, 356), (1518, 354), (1510, 394), (1483, 420), (1454, 398)]),
    ("#58A6EC", [(1518, 362), (1547, 358), (1547, 392), (1535, 399)]),
    ("#80C0FF", [(1547, 358), (1562, 354), (1562, 394), (1547, 392)]),
    ("#5AA8E8", [(1358, 312), (1384, 316), (1395, 340), (1362, 335)]),
    ("#8ACAFF", [(1395, 340), (1456, 352), (1451, 380), (1415, 360)]),
    ("#7EA8FF", [(1121, 513), (1243, 410), (1268, 474), (1236, 624), (1175, 632)]),
    ("#8AAFFF", [(1268, 474), (1421, 481), (1378, 630), (1257, 654), (1234, 625)]),
    ("#5F98F5", [(1053, 567), (1121, 513), (1175, 632), (1130, 652)]),
    ("#528BE8", [(1421, 481), (1480, 470), (1502, 488), (1534, 618), (1378, 630)]),
    ("#78A8FF", [(1230, 414), (1316, 334), (1421, 481), (1268, 474)]),
    ("#72B0FF", [(1316, 334), (1396, 350), (1483, 420), (1450, 413), (1480, 470), (1421, 481)]),
    ("#6CA8F0", [(1485, 420), (1540, 400), (1562, 390), (1562, 481), (1502, 488)]),
    ("#5E9CE8", [(1487, 422), (1518, 438), (1510, 456), (1492, 465)]),
    ("#64A6F0", [(1518, 438), (1552, 428), (1548, 460), (1530, 458), (1510, 456)]),
    ("#90CAFF", [(1502, 488), (1562, 481), (1562, 561), (1522, 565)]),
    ("#80C0FF", [(1522, 565), (1562, 561), (1562, 605), (1535, 613)]),
    ("#4E8CE4", [(1126, 652), (1174, 632), (1177, 647), (1154, 686)]),
    ("#5587E6", [(1175, 632), (1232, 618), (1257, 654), (1214, 664), (1177, 647)]),
    ("#72A5FF", [(1217, 664), (1377, 630), (1395, 656), (1390, 662), (1320, 737), (1218, 678)]),
    ("#6FA5FF", [(1218, 678), (1320, 737), (1236, 783), (1221, 771)]),
    ("#6A9CF2", [(1377, 630), (1418, 682), (1394, 698), (1389, 662)]),
    ("#8AB8FF", [(1389, 662), (1400, 658), (1418, 680), (1395, 698)]),
    ("#4E88E6", [(1180, 659), (1217, 671), (1217, 708), (1192, 729), (1154, 686)]),
    ("#8AB4F8", [(1180, 648), (1217, 664), (1217, 671), (1180, 659)]),
    ("#7AACFF", [(1192, 729), (1210, 718), (1222, 722), (1222, 771), (1236, 783)]),
    ("#74AAEC", [(1236, 785), (1394, 698), (1535, 615), (1562, 640), (1562, 895), (1380, 955), (1290, 850)]),
    ("#5E9ADA", [(1307, 747), (1389, 702), (1299, 793)]),
    ("#78AEEA", [(1236, 785), (1307, 747), (1299, 793), (1290, 850)]),
    ("#6CA8E6", [(1500, 660), (1535, 618), (1562, 640), (1562, 750)]),
    ("#5490D0", [(1430, 690), (1562, 752), (1562, 790)]),
    ("#4A78CC", [(1382, 952), (1405, 955), (1410, 990), (1400, 972)]),
    ("#6A9CE8", [(1405, 955), (1460, 935), (1487, 965), (1475, 1005), (1440, 1015), (1410, 990)]),
    ("#6C9AE0", [(1410, 990), (1440, 1015), (1475, 1005), (1478, 1040), (1475, 1068), (1440, 1030)]),
    ("#78ACFF", [(1460, 935), (1510, 905), (1530, 965), (1487, 965)]),
    ("#8ABEFF", [(1487, 965), (1530, 965), (1562, 990), (1562, 1040), (1510, 1060), (1478, 1040)]),
    ("#7EB2FF", [(1510, 905), (1562, 890), (1562, 990), (1530, 965)]),
    ("#5050D0", [(1480, 1068), (1562, 1045), (1562, 1178), (1530, 1135)]),
    ("#5C64DC", [(1490, 1085), (1520, 1068), (1562, 1090), (1562, 1140), (1530, 1135)]),
]

# Sub-category boundaries inside Genetic and Cellular: (start, end)
GENETIC_LINES = [
    ((852, 8), (770, 225)), ((976, 8), (1053, 103)), ((1108, 8), (1053, 103)),
    ((1053, 103), (1047, 215)), ((1047, 215), (838, 312)), ((1047, 215), (1100, 300)),
    ((1100, 300), (1190, 430)), ((1510, 8), (1541, 147)), ((1541, 147), (1053, 567)),
    ((1438, 239), (1562, 293)), ((1364, 318), (1483, 420)), ((1483, 420), (1562, 385)),
    ((1483, 420), (1502, 488)), ((1502, 488), (1534, 618)),
    ((1236, 785), (1535, 615)), ((1380, 955), (1562, 895)), ((1480, 1068), (1562, 1045)),
]
CELLULAR_LINES = [
    ((1424, 1409), (1561, 1422)), ((1448, 1374), (1482, 1413)),
    ((1373, 1491), (1399, 1561)), ((1545, 1422), (1551, 1502)),
]
METABOLISM_GROUPS = [
    (TOP_TAN, TOP_TAN_CELLS), (WEDGE, []),
    (ORANGE_UP, ORANGE_UP_CELLS), (BROWN_DARK, BROWN_DARK_CELLS), (BROWN_MID, BROWN_MID_CELLS),
    (BROWN_LEFT, BROWN_LEFT_CELLS), (RED_CORNER, RED_CORNER_CELLS), (BROWN_LOW, BROWN_LOW_CELLS),
    (CREAM, CREAM_CELLS), (GOLD_LOW, GOLD_LOW_CELLS), (ORANGE_BRIGHT, ORANGE_BRIGHT_CELLS),
    (YELLOW_MID, YELLOW_MID_CELLS), (YELLOW_LOW, YELLOW_LOW_CELLS),
]
LABELS = [
    ("Metabolism", 632, 975, 93.6, "bold"),
    ("Genetic\nInformation\nProcessing", 1280, 387, 40.4, "bold"),
    ("Cellular\nProcesses", 1490, 1445, 11.8, "bold"),
    ("Environmental\nInformation\nProcessing", 46, 39, 5.6, "normal"),
    ("Organismal\nSystems", 25, 1541, 3, "bold"),
    ("Human\nDiseases", 12.5, 105.5, 1.2, "bold"),
]


def draw_cells(ax, cells, outline):
    clip = Polygon(outline, closed=True, transform=ax.transData)
    for color, points in cells:
        cell = Polygon(points, closed=True, facecolor=color, edgecolor="black", linewidth=0.42)
        ax.add_patch(cell)
        cell.set_clip_path(clip)


def draw_group(ax, base, cells):
    color, outline = base
    ax.add_patch(Polygon(outline, closed=True, facecolor=color, edgecolor="none"))
    draw_cells(ax, cells, outline)
    ax.add_patch(Polygon(outline, closed=True, fill=False, edgecolor="black", linewidth=1.1))


def main():
    fig = plt.figure(figsize=(12.56, 12.56), facecolor="black")
    ax = fig.add_axes([0, 0, 1, 1])
    ax.set_xlim(0, 1568)
    ax.set_ylim(1568, 0)
    ax.axis("off")

    ax.add_patch(Polygon(GENETIC_OUTLINE, closed=True, facecolor="#6070F0", edgecolor="none"))
    draw_cells(ax, GENETIC_CELLS, GENETIC_OUTLINE)
    for start, end in GENETIC_LINES:
        ax.plot(*zip(start, end), color="black", linewidth=1.0, solid_capstyle="round")

    for base, cells in METABOLISM_GROUPS:
        draw_group(ax, base, cells)

    ax.add_patch(Polygon(CELLULAR_OUTLINE, closed=True, facecolor="#EF2B47", edgecolor="none"))
    draw_cells(ax, CELLULAR_CELLS, CELLULAR_OUTLINE)
    for start, end in CELLULAR_LINES:
        ax.plot(*zip(start, end), color="black", linewidth=1.0)
    ax.plot([1424, 1561], [1409, 1560], color="black", linewidth=1.4)

    ax.add_patch(Polygon(ENV_OUTLINE, closed=True, facecolor="#00EEFF", edgecolor="none"))
    draw_cells(ax, ENV_CELLS, ENV_OUTLINE)
    ax.plot([49, 29], [8, 98], color="black", linewidth=1.2)
    ax.add_patch(Polygon(ORGANISMAL_OUTLINE, closed=True, facecolor="#B60BA6", edgecolor="none"))
    draw_cells(ax, ORGANISMAL_CELLS, ORGANISMAL_OUTLINE)
    ax.plot([47, 22], [1536, 1562], color="black", linewidth=1.4)

    # Thick top-level boundaries
    for outline in (ENV_OUTLINE, GENETIC_OUTLINE, CELLULAR_OUTLINE, ORGANISMAL_OUTLINE):
        ax.add_patch(Polygon(outline, closed=True, fill=False, edgecolor="black", linewidth=2.4))
    ax.add_patch(Polygon([(3.5, 3.5), (1564.5, 3.5), (1564.5, 1564.5), (3.5, 1564.5)], closed=True,
                         fill=False, edgecolor="black", linewidth=4.6))

    for text, x, y, size, weight in LABELS:
        label = ax.text(x, y, text, color="white", fontsize=size, fontweight=weight, ha="center",
                        va="center", linespacing=1.03, family="DejaVu Sans")
        shift = max(size * 0.006, 0.25)
        label.set_path_effects([pe.withSimplePatchShadow(offset=(shift, -shift), shadow_rgbFace="black", alpha=0.9)])

    fig.savefig("out.png", dpi=200, facecolor="black")
    plt.close(fig)


if __name__ == "__main__":
    main()
